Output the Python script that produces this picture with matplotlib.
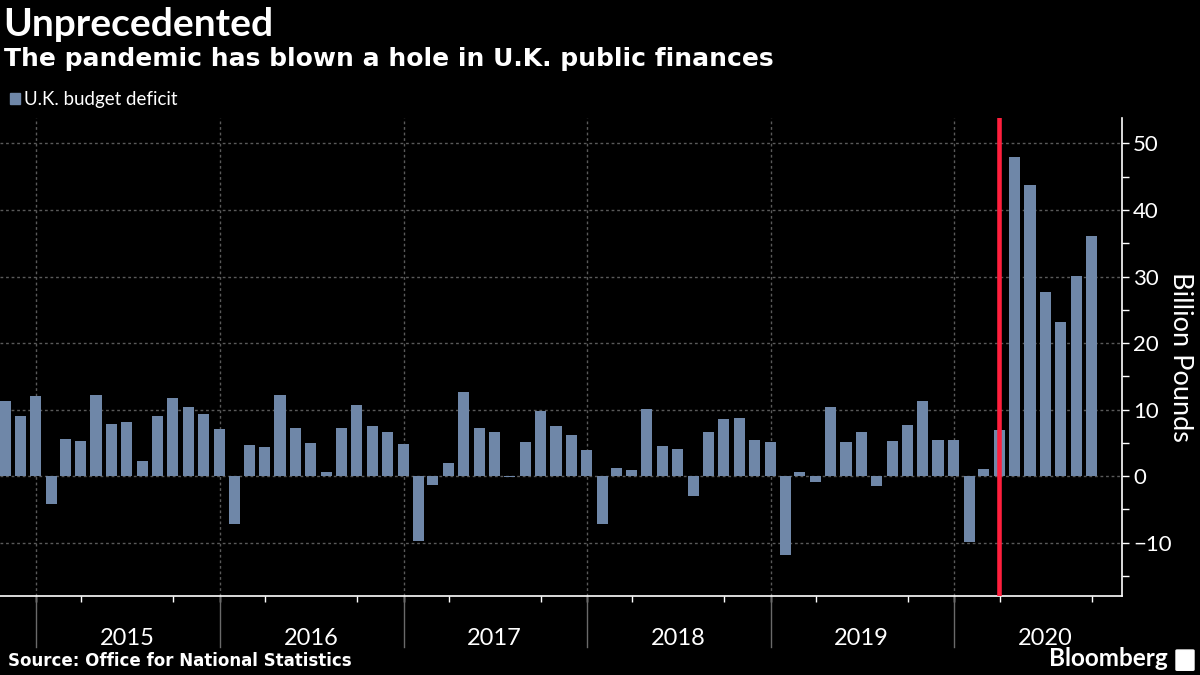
import matplotlib
matplotlib.use("Agg")
import matplotlib.pyplot as plt
import matplotlib.transforms as mtransforms
import pandas as pd
from matplotlib.patches import Rectangle, FancyBboxPatch

# U.K. monthly budget deficit, billion pounds (Oct 2014 - Sep 2020)
months = pd.date_range("2014-10-31", "2020-09-30", freq="ME")
deficit = [11.3, 9.0, 12.0, -4.1, 5.6, 5.3, 12.2, 7.8, 8.1, 2.3, 9.0, 11.7,
           10.4, 9.3, 7.1, -7.2, 4.7, 4.4, 12.2, 7.2, 5.0, 0.6, 7.2, 10.7,
           7.5, 6.6, 4.8, -9.8, -1.35, 2.0, 12.6, 7.2, 6.6, -0.1, 5.1, 9.8,
           7.5, 6.2, 3.9, -7.2, 1.2, 0.9, 10.1, 4.5, 4.1, -2.9, 6.6, 8.6,
           8.7, 5.4, 5.1, -11.9, 0.6, -0.9, 10.4, 5.1, 6.6, -1.5, 5.3, 7.7,
           11.3, 5.4, 5.4, -9.9, 1.05, 6.9, 48.0, 43.8, 27.7, 23.2, 30.1, 36.1]
years = [2015, 2016, 2017, 2018, 2019, 2020]
lockdown = pd.Timestamp("2020-03-31")

BG = "black"
BAR = "#6f87a8"
GRID = "#5a5a5a"
FG = "white"

plt.rcParams["font.family"] = ["Lato", "DejaVu Sans"]

fig = plt.figure(figsize=(12, 6.75), dpi=100, facecolor=BG)
ax = fig.add_axes([0.0, 0.117, 0.935, 0.708], facecolor=BG)

ax.bar(months, deficit, width=22, color=BAR, zorder=2)
ax.axvline(lockdown, color="#ff1f3d", linewidth=3.3, ymin=0.004, ymax=0.998, zorder=3)

ax.set_ylim(-18, 53.8)
ax.set_xlim(pd.Timestamp("2014-10-21"), pd.Timestamp("2020-11-30"))

# y axis on the right
ax.yaxis.tick_right()
ax.yaxis.set_label_position("right")
ax.set_yticks([-10, 0, 10, 20, 30, 40, 50])
ax.set_yticks(range(-15, 50, 10), minor=True)
ax.tick_params(axis="y", which="both", colors=FG, direction="out", length=5,
               width=1, labelsize=16, pad=3)
ax.set_ylabel("Billion Pounds", color=FG, fontsize=19.5, rotation=270,
              labelpad=15)

# x axis: year labels at mid-year, quarter ticks, year separators
starts = [pd.Timestamp(f"{y}-01-01") for y in years]
mids = [pd.Timestamp(f"{y}-07-01") for y in years]
ax.set_xticks(mids)
ax.set_xticklabels([str(y) for y in years])
ax.set_xticks(pd.date_range("2015-01-01", "2020-10-01", freq="QS"), minor=True)
ax.tick_params(axis="x", which="major", length=0, pad=23, colors=FG, labelsize=17)
ax.tick_params(axis="x", which="minor", length=4, width=1, colors=FG, direction="out")

for s in ["top", "left"]:
    ax.spines[s].set_visible(False)
for s in ["right", "bottom"]:
    ax.spines[s].set_color(FG)
    ax.spines[s].set_linewidth(1.2)

# grid
for y in [-10, 0, 10, 20, 30, 40, 50]:
    ax.axhline(y, color=GRID, linewidth=1, linestyle=(0, (2, 2)), zorder=1)
trans = mtransforms.blended_transform_factory(ax.transData, ax.transAxes)
for s in starts:
    ax.axvline(s, color=GRID, linewidth=1, linestyle=(0, (2, 2)), zorder=1)
    ax.plot([s, s], [0, -0.107], transform=trans, color="#6a6a6a",
            linewidth=1, clip_on=False)

# titles and legend
fig.text(0.003, 0.99, "Unprecedented", color=FG, fontsize=28,
         fontweight="bold", va="top", ha="left")
fig.text(0.003, 0.93, "The pandemic has blown a hole in U.K. public finances",
         color=FG, fontsize=18, fontweight="bold", va="top", ha="left",
         family="DejaVu Sans")
fig.patches.append(Rectangle((0.008, 0.846), 0.0085, 0.016, transform=fig.transFigure,
                             color=BAR))
fig.text(0.02, 0.853, "U.K. budget deficit", color=FG, fontsize=13.5,
         va="center", ha="left")

# footer
fig.text(0.007, 0.008, "Source: Office for National Statistics", color=FG,
         fontsize=12, fontweight="bold", va="bottom", ha="left",
         family="DejaVu Sans")
fig.text(0.973, 0.008, "Bloomberg", color=FG, fontsize=17.5, fontweight="bold",
         va="bottom", ha="right")
fig.patches.append(FancyBboxPatch((0.981, 0.008), 0.013, 0.028,
                                  boxstyle="round,pad=0.001",
                                  transform=fig.transFigure, color=FG))

fig.savefig("out.png", dpi=100, facecolor=BG)
